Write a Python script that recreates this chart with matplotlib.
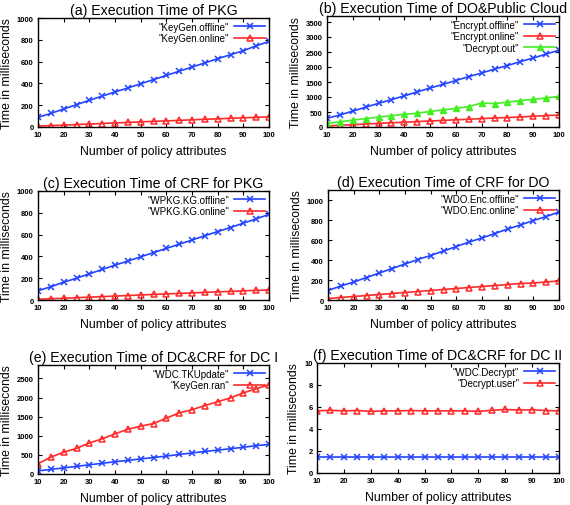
import matplotlib
matplotlib.use("Agg")
import matplotlib.pyplot as plt

plt.rcParams['font.family'] = ['Liberation Sans', 'DejaVu Sans']

# x axis: number of policy attributes
attrs = [10, 15, 20, 25, 30, 35, 40, 45, 50, 55, 60, 65, 70, 75, 80, 85, 90, 95, 100]

# (a) PKG
keygen_offline = [88, 125, 165, 205, 245, 283, 322, 358, 397, 435, 473, 512, 550, 588, 627, 663, 700, 745, 785]
keygen_online = [8, 13, 17, 22, 27, 32, 37, 42, 47, 52, 56, 61, 66, 71, 75, 80, 84, 89, 93]

# (b) DO & public cloud
encrypt_offline = [290, 400, 530, 660, 790, 910, 1040, 1170, 1300, 1420, 1550, 1680, 1800, 1930, 2050, 2180, 2300, 2430, 2560]
encrypt_online = [35, 55, 75, 100, 120, 140, 160, 180, 200, 220, 240, 260, 280, 300, 315, 335, 360, 380, 400]
decrypt_out = [120, 170, 230, 280, 330, 380, 420, 460, 520, 570, 620, 680, 800, 780, 830, 880, 920, 970, 1020]

# (c) CRF for PKG
wpkg_offline = [85, 122, 163, 200, 240, 280, 320, 357, 396, 435, 473, 512, 550, 590, 628, 665, 705, 745, 785]
wpkg_online = [7, 12, 16, 21, 26, 31, 36, 41, 46, 51, 56, 60, 65, 70, 75, 79, 84, 88, 92]

# (d) CRF for DO
wdo_offline = [95, 140, 180, 225, 270, 315, 360, 405, 445, 490, 535, 580, 620, 665, 710, 750, 795, 835, 880]
wdo_online = [15, 25, 35, 45, 55, 65, 75, 85, 95, 105, 115, 125, 135, 145, 155, 165, 170, 180, 190]

# (e) DC & CRF for DC I
wdc_tkupdate = [80, 120, 160, 200, 240, 280, 320, 355, 395, 430, 470, 510, 550, 590, 625, 660, 700, 740, 775]
keygen_ran = [270, 440, 570, 670, 810, 920, 1050, 1170, 1250, 1320, 1460, 1600, 1680, 1790, 1890, 1990, 2120, 2230, 2330]

# (f) DC & CRF for DC II
wdc_decrypt = [1.5, 1.5, 1.5, 1.5, 1.5, 1.5, 1.5, 1.5, 1.5, 1.5, 1.5, 1.5, 1.5, 1.5, 1.5, 1.5, 1.5, 1.5, 1.5]
decrypt_user = [5.65, 5.7, 5.65, 5.68, 5.6, 5.65, 5.65, 5.68, 5.65, 5.65, 5.65, 5.65, 5.6, 5.7, 5.78, 5.72, 5.75, 5.68, 5.65]

BLUE = '#2244ff'
RED = '#ff2a2a'
GREEN = '#44ee22'

W, H = 570, 506
fig = plt.figure(figsize=(W / 100, H / 100), dpi=100)


def make_ax(x0, x1, y0, y1):
    # pixel box (y measured from top)
    return fig.add_axes([x0 / W, 1 - y1 / H, (x1 - x0) / W, (y1 - y0) / H])


def style(ax, title, ymax, yticks):
    ax.set_xlim(10, 100)
    ax.set_ylim(0, ymax)
    ax.set_xticks(range(10, 101, 10))
    ax.set_yticks(yticks)
    ax.tick_params(direction='in', top=True, right=True, labelsize=5.5, length=3, width=0.8, pad=3)
    for lab in ax.get_xticklabels() + ax.get_yticklabels():
        lab.set_fontweight('bold')
    for s in ax.spines.values():
        s.set_linewidth(1.0)
    ax.set_title(title, fontsize=10.2, pad=3)
    ax.set_xlabel('Number of policy attributes', fontsize=8.8, labelpad=5)
    ax.set_ylabel('Time in milliseconds', fontsize=8.8, labelpad=3)
    ax.legend(loc='upper right', frameon=False, markerfirst=False, fontsize=7,
              handlelength=3.2, labelspacing=0.15, borderaxespad=0.2, handletextpad=0.5,
              borderpad=0.2)


def blue(ax, y, label):
    ax.plot(attrs, y, color=BLUE, marker='x', ms=5, mew=1.1, lw=1.2, label=label)


def red(ax, y, label):
    ax.plot(attrs, y, color=RED, marker='^', ms=4.5, mew=1.1, mfc='none', lw=1.2, label=label)


# (a)
ax = make_ax(38, 269, 19, 128)
blue(ax, keygen_offline, '"KeyGen.offline"')
red(ax, keygen_online, '"KeyGen.online"')
style(ax, '(a) Execution Time of PKG', 1000, range(0, 1001, 200))

# (b)
ax = make_ax(327, 559, 17, 128)
blue(ax, encrypt_offline, '"Encrypt.offline"')
red(ax, encrypt_online, '"Encrypt.online"')
ax.plot(attrs, decrypt_out, color=GREEN, marker='^', ms=4.5, lw=1.2, label='"Decrypt.out"')
style(ax, '(b) Execution Time of DO&Public Cloud', 3700, range(0, 3501, 500))

# (c)
ax = make_ax(38, 269, 192, 301)
blue(ax, wpkg_offline, '"WPKG.KG.offline"')
red(ax, wpkg_online, '"WPKG.KG.online"')
style(ax, '(c) Execution Time of CRF for PKG', 1000, range(0, 1001, 200))

# (d)
ax = make_ax(328, 559, 191, 301)
blue(ax, wdo_offline, '"WDO.Enc.offline"')
red(ax, wdo_online, '"WDO.Enc.online"')
style(ax, '(d) Execution Time of CRF for DO', 1100, range(0, 1001, 200))

# (e)
ax = make_ax(38, 269, 366, 475)
blue(ax, wdc_tkupdate, '"WDC.TKUpdate"')
red(ax, keygen_ran, '"KeyGen.ran"')
style(ax, '(e) Execution Time of DC&CRF for DC I', 2850, range(0, 2501, 500))

# (f)
ax = make_ax(317, 559, 364, 474)
blue(ax, wdc_decrypt, '"WDC.Decrypt"')
red(ax, decrypt_user, '"Decrypt.user"')
style(ax, '(f) Execution Time of DC&CRF for DC II', 10, range(0, 11, 2))

fig.savefig('out.png', dpi=100)
